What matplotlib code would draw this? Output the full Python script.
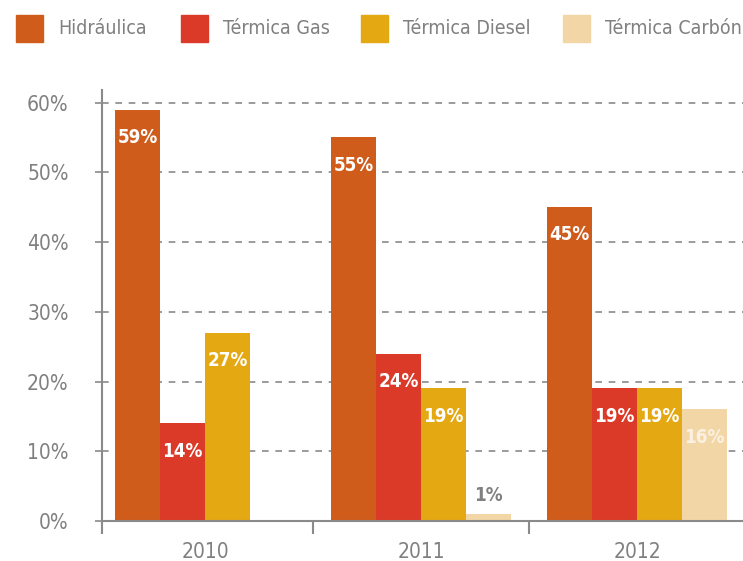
import matplotlib
matplotlib.use("Agg")
import matplotlib.pyplot as plt
from matplotlib.patches import Rectangle
import numpy as np

plt.rcParams['font.family'] = ['DejaVu Sans']
plt.rcParams['font.stretch'] = 'condensed'

years = ["2010", "2011", "2012"]
series = ["Hidráulica", "Térmica Gas", "Térmica Diesel", "Térmica Carbón"]
hidraulica = [59, 55, 45]
termica_gas = [14, 24, 19]
termica_diesel = [27, 19, 19]
termica_carbon = [None, 1, 16]
values = [hidraulica, termica_gas, termica_diesel, termica_carbon]
colors = ["#D05C1C", "#DC3A28", "#E3A812", "#F2D6A6"]
label_colors = ["white", "white", "white", "#FBF1E2"]
gray = "#808080"

W, H = 743, 561
fig = plt.figure(figsize=(W / 100, H / 100), dpi=100)
ax = fig.add_axes([102 / W, 1 - 521 / H, (W - 102) / W, (521 - 90) / H])

x = np.arange(len(years))
w = 0.2083
for i, (vals, col) in enumerate(zip(values, colors)):
    offs = (i - 1.5) * w
    for xi, v in zip(x, vals):
        if v is None:
            continue
        ax.bar(xi + offs, v, width=w, color=col, zorder=2, linewidth=0)
        if v >= 5:
            ax.annotate(f"{v}%", (xi + offs, v), xytext=(0, -20),
                        textcoords="offset points", ha="center", va="center",
                        color=label_colors[i], fontsize=13.5, fontweight="bold",
                        zorder=3)
        else:
            ax.annotate(f"{v}%", (xi + offs, v), xytext=(0, 13),
                        textcoords="offset points", ha="center", va="center",
                        color=gray, fontsize=13.5, fontweight="bold", zorder=3)

ax.set_xlim(-0.477, 2.49)
ax.set_ylim(0, 61.8)
ax.set_yticks(np.arange(0, 61, 10))
ax.set_yticklabels([f"{t}%" for t in range(0, 61, 10)])
ax.yaxis.grid(True, linestyle=(0, (4, 4)), color="#8a8a8a", linewidth=1.2, zorder=0)
ax.set_axisbelow(True)

ax.set_xticks(x)
ax.set_xticklabels(years)
ax.set_xticks([-0.477, 0.5, 1.5], minor=True)
ax.tick_params(axis="x", which="major", length=0, pad=15, labelsize=15, labelcolor=gray)
ax.tick_params(axis="x", which="minor", length=9, width=1.5, color="#8a8a8a")
ax.tick_params(axis="y", length=5, width=1.2, color="#8a8a8a", pad=19,
               labelsize=15, labelcolor=gray)

for s in ["top", "right"]:
    ax.spines[s].set_visible(False)
for s in ["left", "bottom"]:
    ax.spines[s].set_color("#8a8a8a")
    ax.spines[s].set_linewidth(1.5)

# legend row across the top
leg_x = [16, 181, 361, 563]
for lx, name, col in zip(leg_x, series, colors):
    fig.patches.append(Rectangle((lx / W, 1 - 42 / H), 27 / W, 27 / H,
                                 transform=fig.transFigure, color=col))
    fig.text((lx + 42) / W, 1 - 29 / H, name, ha="left", va="center",
             fontsize=14, color=gray)

fig.savefig("out.png", dpi=100)
